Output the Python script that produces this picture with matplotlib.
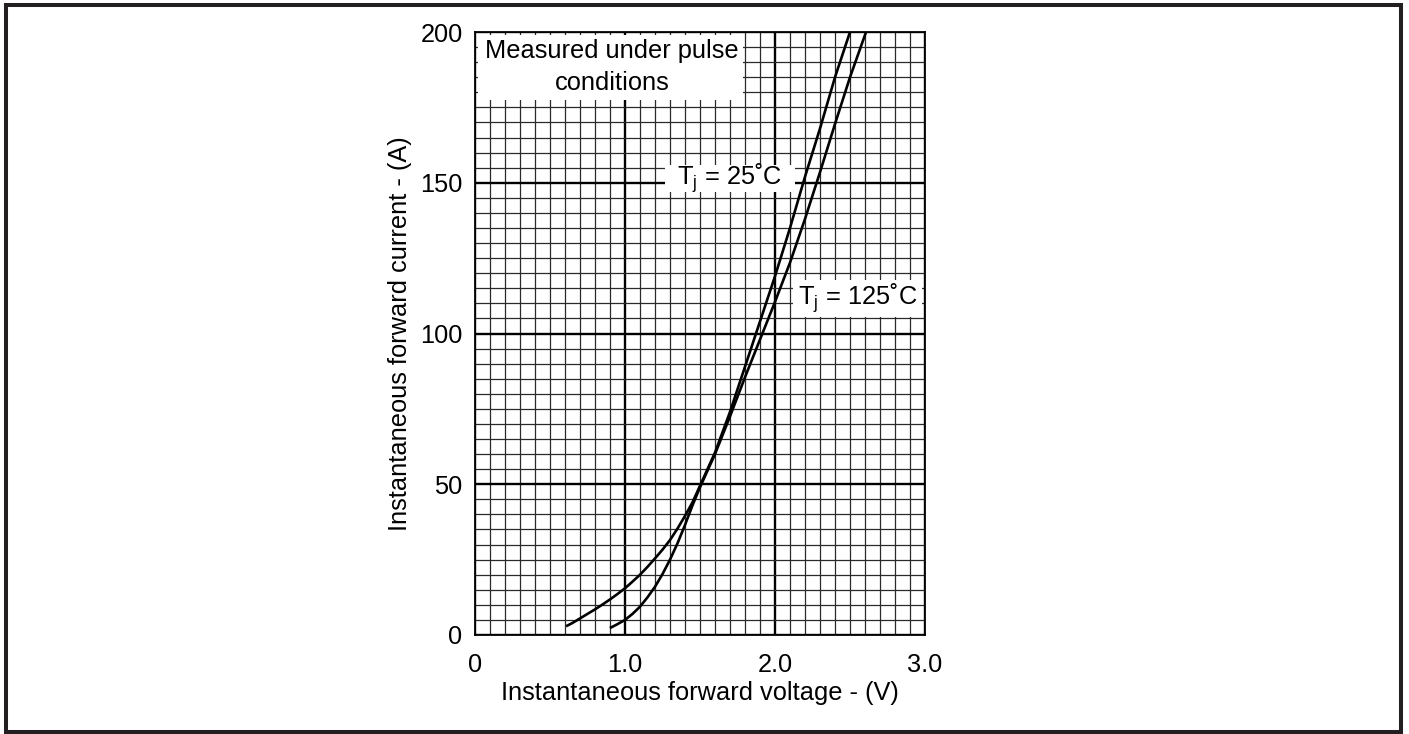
import numpy as np
import matplotlib
matplotlib.use("Agg")
import matplotlib.pyplot as plt
from matplotlib.patches import Rectangle
from matplotlib.ticker import MultipleLocator

plt.rcParams['font.family'] = ['Liberation Sans', 'DejaVu Sans']
plt.rcParams['mathtext.fontset'] = 'custom'
plt.rcParams['mathtext.rm'] = 'Liberation Sans'

# Tj = 25 C curve (V, A)
v25 = [0.615, 0.65, 0.7, 0.75, 0.8, 0.85, 0.9, 0.95, 1.0, 1.05, 1.1, 1.15, 1.2, 1.25, 1.3, 1.35, 1.4, 1.45,
       1.5, 1.6, 1.7, 1.8, 1.9, 2.0, 2.1, 2.2, 2.3, 2.4, 2.5]
i25 = [3.1, 4.0, 5.5, 7.0, 8.5, 10.1, 11.8, 13.6, 15.5, 17.7, 20.0, 22.6, 25.4, 28.3, 31.5, 35.3, 39.5, 44.0,
       49.5, 60.5, 74.0, 89.0, 104.0, 119.0, 135.0, 152.0, 168.0, 185.0, 200.0]
# Tj = 125 C curve (V, A)
v125 = [0.907, 0.95, 1.0, 1.05, 1.1, 1.15, 1.2, 1.25, 1.3, 1.35, 1.4, 1.45, 1.5, 1.6, 1.7, 1.8, 1.9, 2.0,
        2.1, 2.2, 2.3, 2.4, 2.5, 2.607]
i125 = [2.5, 3.6, 5.0, 7.0, 9.4, 12.5, 16.0, 20.2, 25.0, 30.4, 36.5, 43.0, 49.0, 60.0, 72.5, 85.5, 98.0, 110.5,
        123.5, 138.0, 153.5, 169.5, 185.0, 200.0]

xticks = [0, 1.0, 2.0, 3.0]
xticklabels = ["0", "1.0", "2.0", "3.0"]
yticks = [0, 50, 100, 150, 200]

fig = plt.figure(figsize=(14.09, 7.34), dpi=100)
ax = fig.add_axes([475/1409, 1-635/734, 450/1409, 603/734])

ax.set_xlim(0, 3.0)
ax.set_ylim(0, 200)
ax.set_axisbelow(True)
ax.xaxis.set_major_locator(MultipleLocator(1.0))
ax.xaxis.set_minor_locator(MultipleLocator(0.1))
ax.yaxis.set_major_locator(MultipleLocator(50))
ax.yaxis.set_minor_locator(MultipleLocator(5))
ax.grid(which='minor', color='#2a2a2a', lw=0.9)
ax.grid(which='major', color='black', lw=1.7)
ax.set_xticks(xticks)
ax.set_xticklabels(xticklabels)
ax.set_yticks(yticks)
ax.tick_params(which='both', length=0, labelsize=18.3)
ax.tick_params(axis='x', pad=13)
ax.tick_params(axis='y', pad=9)
for s in ax.spines.values():
    s.set_linewidth(1.3)
    s.set_color('black')

ax.plot(v25, i25, color='black', lw=1.9, zorder=4, solid_joinstyle='round')
ax.plot(v125, i125, color='black', lw=1.9, zorder=4, solid_joinstyle='round')

# white label boxes over the grid
ax.add_patch(Rectangle((0.02, 177.4), 1.767, 21.6, facecolor='white', edgecolor='none', zorder=3))
ax.add_patch(Rectangle((1.267, 146.9), 0.866, 9.0, facecolor='white', edgecolor='none', zorder=3))
ax.add_patch(Rectangle((2.12, 105.6), 0.86, 12.1, facecolor='white', edgecolor='none', zorder=3))

ax.text(0.913, 188.4, "Measured under pulse\nconditions", ha='center', va='center',
        fontsize=18.3, linespacing=1.42, zorder=5)
ax.text(1.7, 151.4, r"T$_\mathregular{j}$ = 25˚C", ha='center', va='center', fontsize=18.3, zorder=5)
ax.text(2.553, 111.6, r"T$_\mathregular{j}$ = 125˚C", ha='center', va='center', fontsize=18.3, zorder=5)

ax.set_xlabel("Instantaneous forward voltage - (V)", fontsize=18.3, labelpad=3)
ax.set_ylabel("Instantaneous forward current - (A)", fontsize=18.3, labelpad=6)

# frame around whole figure
fig.patches.append(Rectangle((6/1409, 2/734), 1395.3/1409, 726.7/734, transform=fig.transFigure,
                             fill=False, edgecolor='#231f20', lw=2.9))

fig.savefig("out.png", dpi=100)
